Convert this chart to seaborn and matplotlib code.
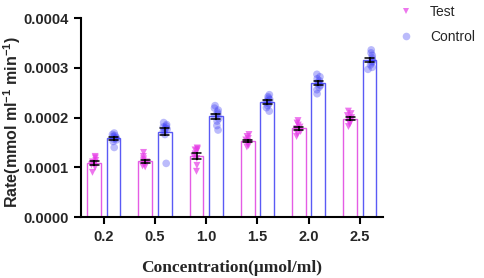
import pandas as pd
import matplotlib
matplotlib.use('Agg')
import matplotlib.pyplot as plt
from matplotlib.lines import Line2D
import seaborn as sns

# data (rate, mmol ml-1 min-1), one list of replicates per concentration
concentrations = ['0.2', '0.5', '1.0', '1.5', '2.0', '2.5']
test_values = [
    [122e-6, 119e-6, 114e-6, 111e-6, 109e-6, 107e-6, 105e-6, 100e-6, 90e-6],
    [130e-6, 122e-6, 117e-6, 113e-6, 111e-6, 109e-6, 106e-6, 103e-6, 101e-6],
    [139e-6, 137e-6, 135e-6, 133e-6, 127e-6, 122e-6, 118e-6, 104e-6, 92e-6],
    [166e-6, 162e-6, 158e-6, 155e-6, 152e-6, 150e-6, 147e-6, 144e-6, 141e-6],
    [194e-6, 189e-6, 185e-6, 181e-6, 178e-6, 175e-6, 172e-6, 167e-6, 162e-6],
    [213e-6, 208e-6, 204e-6, 200e-6, 198e-6, 195e-6, 192e-6, 187e-6, 182e-6],
]
control_values = [
    [169e-6, 166e-6, 164e-6, 162e-6, 160e-6, 158e-6, 157e-6, 155e-6, 152e-6, 140e-6],
    [190e-6, 186e-6, 183e-6, 181e-6, 179e-6, 177e-6, 175e-6, 172e-6, 166e-6, 108e-6],
    [224e-6, 219e-6, 215e-6, 211e-6, 207e-6, 203e-6, 198e-6, 193e-6, 184e-6, 175e-6],
    [246e-6, 242e-6, 239e-6, 236e-6, 233e-6, 231e-6, 228e-6, 224e-6, 220e-6, 213e-6],
    [287e-6, 282e-6, 278e-6, 274e-6, 271e-6, 268e-6, 265e-6, 261e-6, 256e-6, 248e-6],
    [336e-6, 330e-6, 325e-6, 320e-6, 316e-6, 313e-6, 310e-6, 306e-6, 301e-6, 297e-6],
]
groups = ['Test', 'Control']
y_ticks = [0.0, 0.0001, 0.0002, 0.0003, 0.0004]

rows = []
for c, vals in zip(concentrations, test_values):
    for v in vals:
        rows.append((c, 'Test', v))
for c, vals in zip(concentrations, control_values):
    for v in vals:
        rows.append((c, 'Control', v))
df = pd.DataFrame(rows, columns=['conc', 'group', 'rate'])

bar_colors = {'Test': '#e55ce5', 'Control': '#5a5af5'}
dot_colors = {'Test': '#e63ce6', 'Control': '#3d3df5'}

sns.set_style('ticks')
plt.rcParams['font.family'] = ['Liberation Sans', 'DejaVu Sans']
plt.rcParams['mathtext.fontset'] = 'custom'
plt.rcParams['mathtext.bf'] = 'Liberation Sans:bold'
plt.rcParams['mathtext.rm'] = 'Liberation Sans:bold'

fig = plt.figure(figsize=(4.84, 2.78), dpi=100)
ax = fig.add_axes([0.167, 0.219, 0.624, 0.716])

sns.barplot(data=df, x='conc', y='rate', hue='group', order=concentrations,
            hue_order=groups, palette=bar_colors, fill=False, width=0.76, gap=0.29,
            linewidth=1.0, errorbar='se', capsize=0.35,
            err_kws={'color': 'black', 'linewidth': 1.1}, legend=False, ax=ax)

sns.stripplot(data=df[df.group == 'Test'], x='conc', y='rate', hue='group',
              order=concentrations, hue_order=groups, palette=dot_colors,
              dodge=True, jitter=0.09, marker='v', size=5, alpha=0.7,
              linewidth=0, legend=False, ax=ax)
sns.stripplot(data=df[df.group == 'Control'], x='conc', y='rate', hue='group',
              order=concentrations, hue_order=groups, palette=dot_colors,
              dodge=True, jitter=0.09, marker='o', size=5.5, alpha=0.35,
              linewidth=0, legend=False, ax=ax)

for ln in ax.lines:
    ln.set_zorder(5)

ax.set_xlim(-0.45, 5.45)
ax.set_ylim(0, 0.0004)
ax.set_yticks(y_ticks)
ax.set_yticklabels(['%.4f' % t for t in y_ticks])
for lab in ax.get_xticklabels() + ax.get_yticklabels():
    lab.set_fontweight('bold')
    lab.set_fontsize(10.5)
ax.tick_params(axis='both', width=1.5, length=5, color='black', pad=4)
sns.despine(ax=ax)
for s in ['left', 'bottom']:
    ax.spines[s].set_linewidth(1.5)
    ax.spines[s].set_color('black')

ax.set_ylabel('Rate(mmol ml$^{-1}$ min$^{-1}$)', fontsize=11.5, fontweight='bold')
ax.yaxis.set_label_coords(-0.19, 0.48)
ax.set_xlabel('Concentration(\u03bcmol/ml)', fontsize=12.5, fontweight='bold',
              family=['Liberation Serif', 'DejaVu Serif'], labelpad=12)

handles = [
    Line2D([], [], marker='v', linestyle='', color=dot_colors['Test'], alpha=0.7, markersize=5, markeredgewidth=0),
    Line2D([], [], marker='o', linestyle='', color=dot_colors['Control'], alpha=0.35, markersize=5.5, markeredgewidth=0),
]
ax.legend(handles, groups, loc='upper left', bbox_to_anchor=(1.0, 1.13), frameon=False,
          fontsize=10, handletextpad=1.0, labelspacing=0.8, handlelength=1.5)

plt.savefig('out.png', dpi=100)
